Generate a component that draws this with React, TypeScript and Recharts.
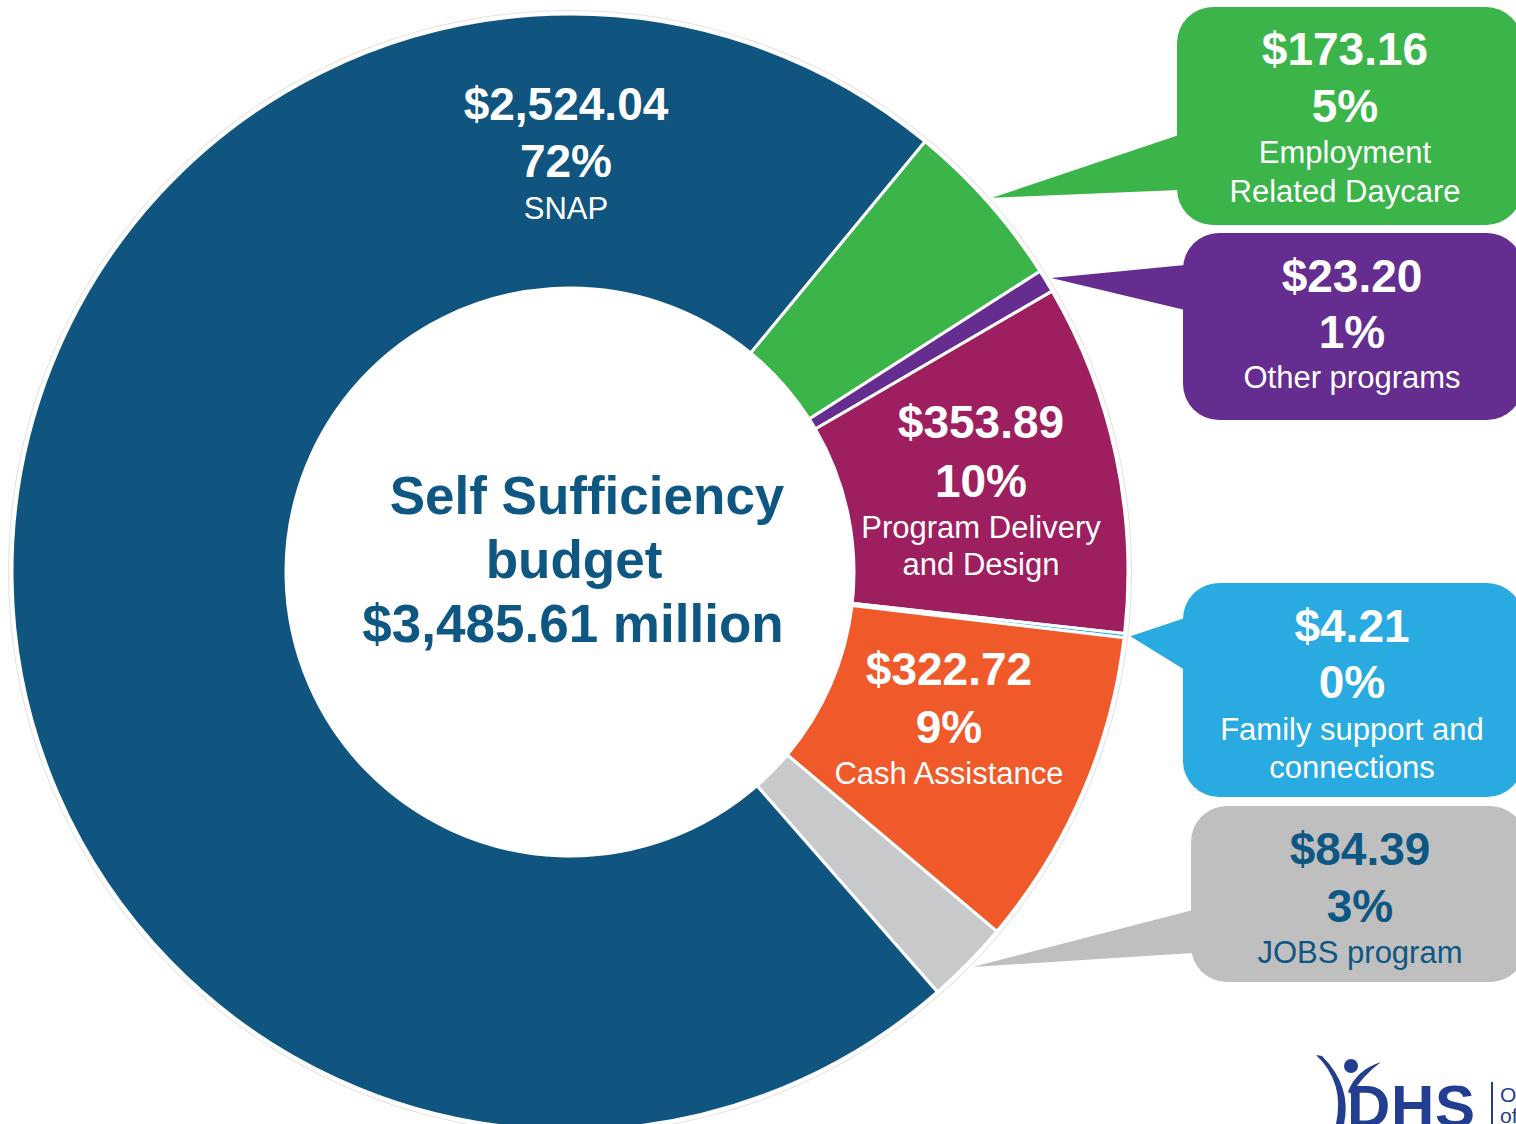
import React from 'react';
import { PieChart, Pie, Cell } from 'recharts';

// ---- data (clockwise from the SNAP/daycare boundary) ----
const programs = [
  'Employment Related Daycare',
  'Other programs',
  'Program Delivery and Design',
  'Family support and connections',
  'Cash Assistance',
  'JOBS program',
  'SNAP',
];
const amounts = [173.16, 23.2, 353.89, 4.21, 322.72, 84.39, 2524.04];
const amountLabels = ['$173.16', '$23.20', '$353.89', '$4.21', '$322.72', '$84.39', '$2,524.04'];
const percentLabels = ['5%', '1%', '10%', '0%', '9%', '3%', '72%'];
const nameLines = [
  ['Employment', 'Related Daycare'],
  ['Other programs'],
  ['Program Delivery', 'and Design'],
  ['Family support and', 'connections'],
  ['Cash Assistance'],
  ['JOBS program'],
  ['SNAP'],
];
const titleLines = ['Self Sufficiency', 'budget', '$3,485.61 million'];

const sliceColors = ['#3bb54a', '#652d90', '#9e1f5f', '#29abe2', '#f05a2b', '#c8c9cb', '#10557f'];
const BLUE_TEXT = '#0e5783';
const FONT = '"Liberation Sans", Arial, Helvetica, sans-serif';

const chartData = programs.map((name, i) => ({ name, value: amounts[i] }));
const ringData = [{ name: 'outline', value: 1 }];

// label placement (annotation layout only)
type Callout = { x: number; y: number; w: number; h: number; fill: string; text: string; baseY: [number, number] };
type LabelLayout = { textX: number; baselines: number[]; callout?: Callout };

const layouts: LabelLayout[] = [
  { textX: 1345, baselines: [65, 122, 163, 202], callout: { x: 1177, y: 7, w: 345, h: 218, fill: '#3bb54a', text: '#fff', baseY: [135, 190] } },
  { textX: 1352, baselines: [292, 348, 388], callout: { x: 1183, y: 233, w: 340, h: 187, fill: '#652d90', text: '#fff', baseY: [265, 310] } },
  { textX: 981, baselines: [438, 497, 538, 575] },
  { textX: 1352, baselines: [642, 698, 740, 778], callout: { x: 1183, y: 583, w: 340, h: 214, fill: '#29abe2', text: '#fff', baseY: [618, 670] } },
  { textX: 949, baselines: [685, 743, 784] },
  { textX: 1360, baselines: [865, 922, 963], callout: { x: 1191, y: 806, w: 335, h: 176, fill: '#bfbfbf', text: BLUE_TEXT, baseY: [910, 953] } },
  { textX: 566, baselines: [120, 177, 219] },
];

const RAD = Math.PI / 180;

const renderLabel = (props: any) => {
  const { cx, cy, midAngle, outerRadius, index } = props;
  const lay = layouts[index];
  const c = lay.callout;
  const color = c ? c.text : '#fff';
  const lines = [
    { t: amountLabels[index], size: 46, weight: 700 },
    { t: percentLabels[index], size: 46, weight: 700 },
    ...nameLines[index].map((t) => ({ t, size: 31, weight: 400 })),
  ];
  let pointer = null;
  if (c) {
    const r = outerRadius + 6;
    const tx = cx + r * Math.cos(midAngle * RAD);
    const ty = cy - r * Math.sin(midAngle * RAD);
    pointer = (
      <polygon
        points={`${tx},${ty} ${c.x + 2},${c.baseY[0]} ${c.x + 2},${c.baseY[1]}`}
        fill={c.fill}
      />
    );
  }
  return (
    <g key={`lbl-${index}`}>
      {c && <rect x={c.x} y={c.y} width={c.w} height={c.h} rx={36} ry={36} fill={c.fill} />}
      {pointer}
      {lines.map((l, i) => (
        <text
          key={i}
          x={lay.textX}
          y={lay.baselines[i]}
          textAnchor="middle"
          fill={color}
          fontFamily={FONT}
          fontSize={l.size}
          fontWeight={l.weight}
        >
          {l.t}
        </text>
      ))}
    </g>
  );
};

export default function App() {
  return (
    <div style={{ position: 'absolute', left: 0, top: 0, width: 1516, height: 1124, overflow: 'hidden', background: '#fff' }}>
      <PieChart width={1516} height={1124} margin={{ top: 0, right: 0, bottom: 0, left: 0 }}>
        {/* faint outline round the donut */}
        <Pie
          data={ringData}
          dataKey="value"
          cx={570}
          cy={572}
          innerRadius={561}
          outerRadius={562}
          startAngle={0}
          endAngle={360}
          fill="#e2e2e2"
          stroke="none"
          isAnimationActive={false}
        />
        <Pie
          data={chartData}
          dataKey="value"
          nameKey="name"
          cx={570}
          cy={572}
          innerRadius={284}
          outerRadius={558}
          startAngle={50.5}
          endAngle={-309.5}
          stroke="#fff"
          strokeWidth={3}
          label={renderLabel}
          labelLine={false}
          isAnimationActive={false}
        >
          {chartData.map((d, i) => (
            <Cell key={d.name} fill={sliceColors[i]} />
          ))}
        </Pie>
      </PieChart>

      {/* centre title + logo */}
      <svg width={1516} height={1124} style={{ position: 'absolute', left: 0, top: 0, pointerEvents: 'none' }}>
        <g fontFamily={FONT} fontWeight={700} fontSize={53} fill={BLUE_TEXT} textAnchor="middle">
          <text x={587} y={514}>{titleLines[0]}</text>
          <text x={574} y={578}>{titleLines[1]}</text>
          <text x={573} y={642}>{titleLines[2]}</text>
        </g>
        <g fill="#233e90" stroke="none">
          <circle cx={1351} cy={1066} r={7} />
          <path d="M1316 1055 Q1345 1082 1336 1124 L1344 1124 Q1352 1086 1322 1056 Z" />
          <path d="M1381 1062 Q1356 1070 1348 1092 L1352 1094 Q1362 1076 1381 1062 Z" />
          <text x={1347} y={1127} fontFamily={FONT} fontWeight={700} fontSize={60} textLength={128}>DHS</text>
          <rect x={1491} y={1082} width={2} height={42} />
          <text x={1500} y={1102} fontFamily={FONT} fontSize={21}>Oregon Department</text>
          <text x={1500} y={1123} fontFamily={FONT} fontSize={21}>of Human Services</text>
        </g>
      </svg>
    </div>
  );
}
